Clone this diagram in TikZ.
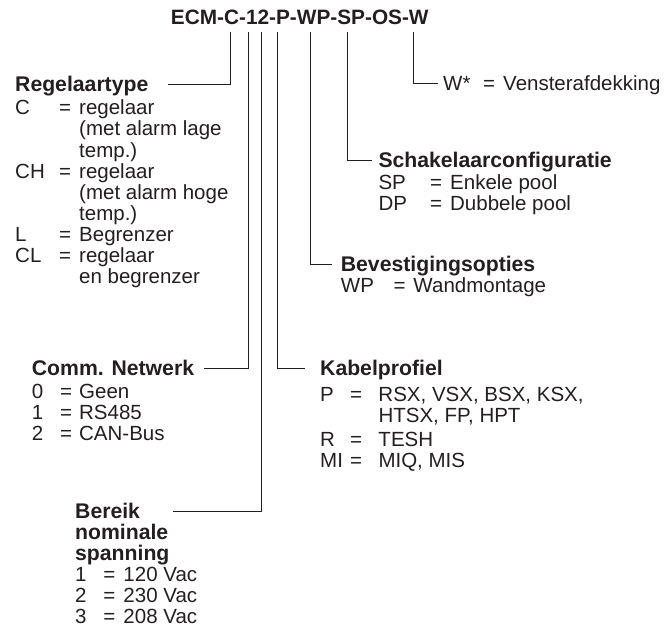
\documentclass[tikz,border=0pt]{standalone}
\usepackage{fontspec}
\setmainfont{Liberation Sans}
\usepackage{xcolor}
\usetikzlibrary{positioning}
\definecolor{ink}{HTML}{231F20}

\tikzset{
  lbl/.style={inner sep=0pt, anchor=base west, text=ink, font=\fontsize{20.5}{21}\selectfont},
  head/.style={lbl, font=\fontsize{21.2}{21}\selectfont\bfseries},
  leader/.style={draw=ink, line width=1pt},
}
\newcommand{\optlist}[3]{\begin{tabular}[t]{@{}p{#1}@{}p{#2}@{}l@{}}#3\end{tabular}}

\begin{document}
\begin{tikzpicture}[x=1pt,y=-1pt]
    \useasboundingbox (0,0) rectangle (670,631);
    \node [lbl, anchor=base, font=\fontsize{20.8}{21}\selectfont\bfseries] (code) at (299.8,25) {ECM-C-12-P-WP-SP-OS-W};
    \foreach \n/\x in {c/230.5, n/248, s/261.5, k/277.5, b/310.5, p/347, w/413}
        \coordinate (t\n) at (\x,32);

    % left side
    \node [head] (regtype) at (15,92) {Regelaartype};
    \node [lbl] (regopts) at ([yshift=-22.7pt]regtype.base west) {\optlist{44pt}{20pt}{C & = & regelaar\\ & & (met alarm lage\\ & & temp.)\\ CH & = & regelaar\\ & & (met alarm hoge\\ & & temp.)\\ L & = & Begrenzer\\ CL & = & regelaar\\ & & en begrenzer}};
    \draw [leader] (tc) |- ([xshift=153pt,yshift=7pt]regtype.base west);

    \node [head] (comm) at (31.7,375.5) {Comm. Netwerk};
    \node [lbl] (commopts) at ([yshift=-23pt]comm.base west) {\optlist{28.3pt}{19pt}{0 & = & Geen\\ 1 & = & RS485\\ 2 & = & CAN-Bus}};
    \draw [leader] (tn) |- ([xshift=172.3pt,yshift=7pt]comm.base west);

    \node [head] (range) at (75,518) {Bereik};
    \node [lbl] (rangeopts) at ([yshift=-21pt]range.base west) {\optlist{28.3pt}{20pt}{\multicolumn{3}{@{}l@{}}{\fontsize{21.2}{21}\selectfont\bfseries nominale}\\ \multicolumn{3}{@{}l@{}}{\fontsize{21.2}{21}\selectfont\bfseries spanning}\\ 1 & = & 120 Vac\\ 2 & = & 230 Vac\\ 3 & = & 208 Vac}};
    \draw [leader] (ts) |- ([xshift=98.3pt,yshift=7pt]range.base west);

    % right side
    \node [lbl] (cover) at (443,90.5) {\optlist{40pt}{20pt}{W* & = & Vensterafdekking}};
    \draw [leader] (tw) |- ([xshift=-5pt,yshift=7pt]cover.base west);

    \node [head] (switch) at (378.3,168) {Schakelaarconfiguratie};
    \node [lbl] (switchopts) at ([yshift=-21.5pt]switch.base west) {\optlist{51.7pt}{20pt}{SP & = & Enkele pool\\ DP & = & Dubbele pool}};
    \draw [leader] (tp) |- ([xshift=-6.6pt,yshift=7pt]switch.base west);

    \node [head] (mount) at (340.7,272) {Bevestigingsopties};
    \node [lbl] (mountopts) at ([yshift=-20.7pt]mount.base west) {\optlist{52.6pt}{20pt}{WP & = & Wandmontage}};
    \draw [leader] (tb) |- ([xshift=-9pt,yshift=7pt]mount.base west);

    \node [head] (cable) at (320,375.5) {Kabelprofiel};
    \node [lbl] (cableopts) at ([yshift=-26pt]cable.base west) {\optlist{30pt}{28.3pt}{P & = & RSX, VSX, BSX, KSX,\\ & & HTSX, FP, HPT\\[3pt] R & = & TESH\\ MI & = & MIQ, MIS}};
    \draw [leader] (tk) |- ([xshift=-15pt,yshift=7pt]cable.base west);
\end{tikzpicture}
\end{document}
